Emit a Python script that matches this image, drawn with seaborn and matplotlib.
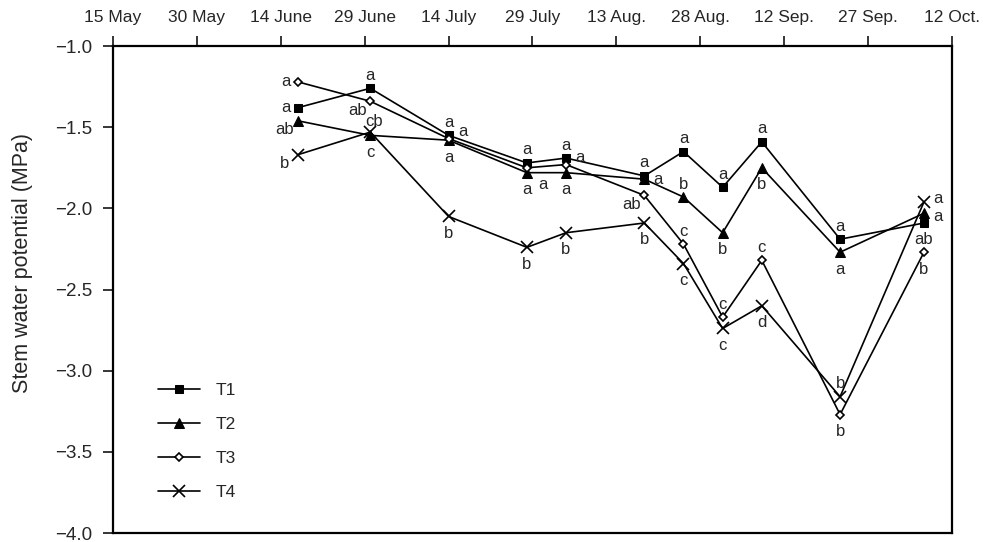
import seaborn as sns
import matplotlib.pyplot as plt
import pandas as pd

# Sampling dates (same for every treatment)
sample_dates = ["06-17", "06-30", "07-14", "07-28", "08-04", "08-18",
                "08-25", "09-01", "09-08", "09-22", "10-07"]

# Stem water potential (MPa)
t1 = [-1.38, -1.26, -1.55, -1.72, -1.69, -1.80, -1.65, -1.87, -1.59, -2.19, -2.09]
t2 = [-1.46, -1.55, -1.58, -1.78, -1.78, -1.82, -1.93, -2.15, -1.75, -2.27, -2.03]
t3 = [-1.22, -1.34, -1.57, -1.75, -1.73, -1.92, -2.22, -2.67, -2.32, -3.27, -2.27]
t4 = [-1.67, -1.53, -2.05, -2.24, -2.15, -2.09, -2.34, -2.74, -2.60, -3.16, -1.96]

# Significance letters
t1_letters = ["a", "a", "a", "a", "a", "a", "a", "a", "a", "a", "ab"]
t2_letters = ["ab", "c", "a", "a", "a", "a", "b", "b", "b", "a", "a"]
t3_letters = ["a", "ab", "a", "a", "a", "ab", "c", "c", "c", "b", "b"]
t4_letters = ["b", "cb", "b", "b", "b", "b", "c", "c", "d", "b", "a"]

# where each letter sits relative to its point
t1_pos = ["W", "N", "N", "N", "N", "N", "N", "N", "N", "N", "S"]
t2_pos = ["SW", "S", "S", "S", "S", "E", "N", "S", "S", "S", "Ed"]
t3_pos = ["W", "SW", "NE", "SE", "NE", "SW", "N", "N", "N", "S", "S"]
t4_pos = ["SW", "Nr", "S", "S", "S", "S", "S", "S", "S", "N", "Eu"]

tick_labels = ["15 May", "30 May", "14 June", "29 June", "14 July", "29 July",
               "13 Aug.", "28 Aug.", "12 Sep.", "27 Sep.", "12 Oct."]

offsets = {"N": (0, 13), "Nr": (4, 11), "S": (0, -17), "W": (-12, 0), "E": (14, 0),
           "Eu": (14, 3), "Ed": (14, -3),
           "SW": (-13, -9), "NE": (14, 7), "SE": (16, -17)}

dates = pd.to_datetime(["2005-" + d for d in sample_dates])
tick_dates = pd.date_range("2005-05-15", periods=len(tick_labels), freq="15D")

sns.set_style("white")
plt.rcParams["font.family"] = ["Liberation Sans", "DejaVu Sans"]

fig, ax = plt.subplots(figsize=(9.87, 5.42), dpi=100)
fig.subplots_adjust(left=0.1145, right=0.9645, top=0.915, bottom=0.0166)

series = [
    ("T1", t1, t1_letters, t1_pos, dict(marker="s", markersize=6, markerfacecolor="black")),
    ("T2", t2, t2_letters, t2_pos, dict(marker="^", markersize=7, markerfacecolor="black")),
    ("T3", t3, t3_letters, t3_pos, dict(marker="D", markersize=4.5, markerfacecolor="white",
                                        markeredgewidth=1.2)),
    ("T4", t4, t4_letters, t4_pos, dict(marker="x", markersize=8, markeredgewidth=1.2)),
]

for name, vals, letters, pos, style in series:
    sns.lineplot(x=dates, y=vals, ax=ax, color="black", linewidth=1.2,
                 markeredgecolor="black", label=name, **style)
    for d, v, lab, p in zip(dates, vals, letters, pos):
        ax.annotate(lab, (d, v), xytext=offsets[p], textcoords="offset pixels",
                    ha="center", va="center", fontsize=12)

ax.set_xlim(tick_dates[0], tick_dates[-1])
ax.set_ylim(-4.0, -1.0)
ax.set_yticks([-4.0, -3.5, -3.0, -2.5, -2.0, -1.5, -1.0])
ax.set_yticklabels([f"{v:.1f}".replace("-", "\u2212") for v in ax.get_yticks()])
ax.xaxis.tick_top()
ax.set_xticks(tick_dates)
ax.set_xticklabels(tick_labels)
ax.tick_params(axis="x", top=True, bottom=False, direction="out", length=7,
               width=1.3, pad=8, labelsize=12.5)
ax.tick_params(axis="y", left=True, direction="out", length=7, width=1.3,
               pad=8, labelsize=13.5)
ax.set_xlabel("")
ax.set_ylabel("Stem water potential (MPa)", fontsize=15.5)
ax.yaxis.set_label_coords(-0.095, 0.554)
for sp in ax.spines.values():
    sp.set_color("black")
    sp.set_linewidth(1.6)

ax.legend(loc="lower left", bbox_to_anchor=(0.035, 0.035), frameon=False,
          fontsize=12.5, handlelength=2.4, handletextpad=0.9, labelspacing=1.1)

plt.savefig("out.png", dpi=100)
